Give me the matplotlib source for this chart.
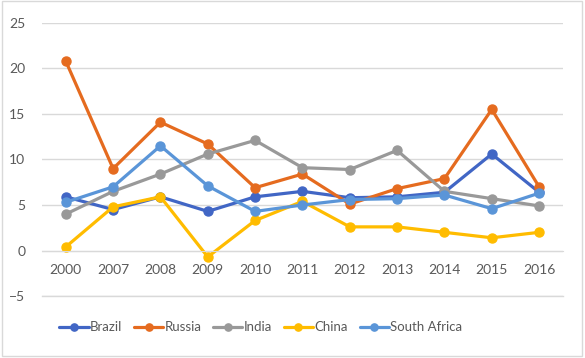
import matplotlib.pyplot as plt
from matplotlib.patches import Rectangle

years = ['2000', '2007', '2008', '2009', '2010', '2011', '2012', '2013', '2014', '2015', '2016']
brazil = [5.9, 4.5, 5.9, 4.3, 5.9, 6.5, 5.8, 5.9, 6.4, 10.6, 6.4]
russia = [20.8, 9.0, 14.1, 11.7, 6.9, 8.4, 5.1, 6.8, 7.9, 15.5, 7.0]
india = [4.0, 6.5, 8.4, 10.6, 12.1, 9.1, 8.9, 11.0, 6.5, 5.7, 4.9]
china = [0.4, 4.8, 5.9, -0.7, 3.3, 5.4, 2.6, 2.6, 2.0, 1.4, 2.0]
south_africa = [5.3, 7.0, 11.5, 7.1, 4.3, 5.0, 5.6, 5.7, 6.1, 4.6, 6.3]

series = [
    ('Brazil', brazil, '#4166C5'),
    ('Russia', russia, '#E56B1F'),
    ('India', india, '#999999'),
    ('China', china, '#FFBC00'),
    ('South Africa', south_africa, '#5A95D8'),
]

plt.rcParams['font.family'] = ['Lato', 'DejaVu Sans']

fig = plt.figure(figsize=(5.85, 3.58), dpi=100)
fig.patches.append(Rectangle((0.003, 0.006), 0.992, 0.99, transform=fig.transFigure,
                             fill=False, edgecolor='#D9D9D9', linewidth=1))
ax = fig.add_axes([0.072, 0.173, 0.890, 0.763])

x = range(len(years))
for name, vals, col in series:
    ax.plot(x, vals, color=col, linewidth=2.3, marker='o', markersize=6.5,
            label=name, clip_on=False, solid_capstyle='round')

ax.set_xlim(-0.5, len(years) - 0.5)
ax.set_ylim(-5, 25)
ax.set_yticks(range(-5, 26, 5))
ax.set_xticks(list(x))
ax.set_xticklabels(years)
ax.grid(axis='y', color='#D9D9D9', linewidth=1)
ax.axhline(-5, color='#D9D9D9', linewidth=1, zorder=0, clip_on=False)
ax.set_axisbelow(True)
for s in ['top', 'right', 'left']:
    ax.spines[s].set_visible(False)
ax.spines['bottom'].set_position(('data', 0))
ax.spines['bottom'].set_color('#D9D9D9')
ax.tick_params(axis='both', length=0, labelsize=10, colors='#595959')
ax.tick_params(axis='x', pad=10)
ax.tick_params(axis='y', pad=12)

ax.legend(loc='center', bbox_to_anchor=(0.42, -0.114), ncol=5, frameon=False,
          fontsize=9.5, handlelength=2.2, handletextpad=0.1, columnspacing=0.9,
          markerscale=0.8, labelcolor='#595959')

fig.savefig('out.png', dpi=100)
